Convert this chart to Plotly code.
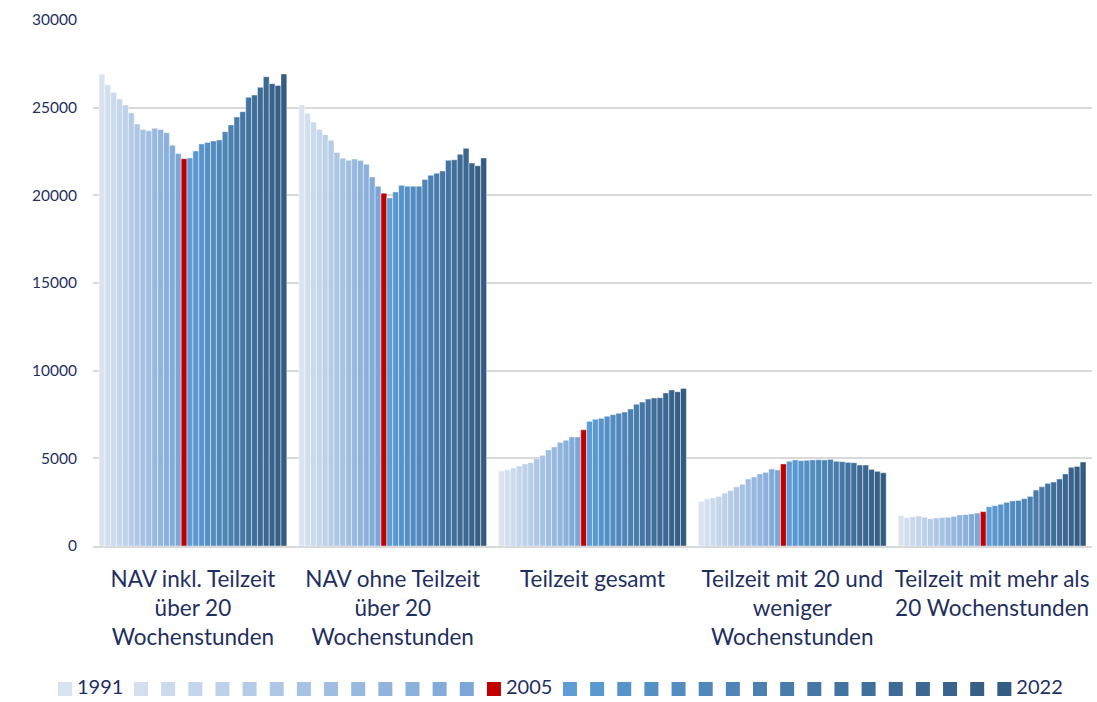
import plotly.graph_objects as go

# ---------------- data ----------------
years = list(range(1991, 2023))
categories = [
    "NAV inkl. Teilzeit<br>über 20<br>Wochenstunden",
    "NAV ohne Teilzeit<br>über 20<br>Wochenstunden",
    "Teilzeit gesamt",
    "Teilzeit mit 20 und<br>weniger<br>Wochenstunden",
    "Teilzeit mit mehr als<br>20 Wochenstunden",
]
nav_inkl = [26900, 26300, 25880, 25500, 25150, 24710, 24070, 23760, 23690, 23820, 23760, 23570, 22850, 22380, 22090, 22130,
            22530, 22930, 23020, 23100, 23160, 23630, 24010, 24470, 24770, 25590, 25720, 26160, 26770, 26370, 26270, 26920]
nav_ohne = [25150, 24680, 24180, 23760, 23460, 23140, 22450, 22110, 22000, 22070, 21980, 21770, 21050, 20520, 20120, 19850,
            20190, 20570, 20520, 20520, 20520, 20910, 21140, 21260, 21390, 22000, 22030, 22340, 22680, 21840, 21690, 22130]
tz_gesamt = [4280, 4340, 4450, 4560, 4680, 4750, 4980, 5170, 5480, 5650, 5910, 6030, 6220, 6220, 6630, 7110,
             7230, 7280, 7400, 7490, 7570, 7640, 7810, 8080, 8210, 8380, 8440, 8460, 8730, 8900, 8800, 8990]
tz_bis20 = [2550, 2680, 2740, 2830, 3010, 3160, 3370, 3520, 3820, 3940, 4110, 4200, 4390, 4340, 4680, 4830,
            4910, 4870, 4890, 4910, 4920, 4910, 4940, 4830, 4810, 4770, 4750, 4620, 4620, 4370, 4260, 4180]
tz_ueber20 = [1730, 1620, 1670, 1710, 1640, 1560, 1600, 1620, 1640, 1690, 1770, 1790, 1830, 1880, 1960, 2240,
              2300, 2380, 2490, 2570, 2600, 2700, 2830, 3190, 3380, 3570, 3650, 3820, 4110, 4490, 4540, 4790]
series_by_category = [nav_inkl, nav_ohne, tz_gesamt, tz_bis20, tz_ueber20]
labeled_years = [1991, 2005, 2022]
y_ticks = [0, 5000, 10000, 15000, 20000, 25000, 30000]

# ---------------- style ----------------
TEXT = "#1F2F5F"
FONT = "Lato"
GRID = "#D9D9D9"
RED = "#C00000"


def lerp(c1, c2, t):
    return "rgb(%d,%d,%d)" % tuple(round(a + (b - a) * t) for a, b in zip(c1, c2))


light_a, light_b = (218, 228, 241), (123, 166, 215)
dark_a, dark_b = (93, 156, 213), (52, 91, 129)
colors = []
for y in years:
    if y < 2005:
        colors.append(lerp(light_a, light_b, (y - 1991) / (2004 - 1991)))
    elif y == 2005:
        colors.append(RED)
    else:
        colors.append(lerp(dark_a, dark_b, (y - 2006) / (2022 - 2006)))

fig = go.Figure()
for i, y in enumerate(years):
    fig.add_trace(go.Bar(
        x=categories,
        y=[s[i] for s in series_by_category],
        name=str(y),
        marker=dict(color=colors[i], line=dict(color="rgba(255,255,255,0.55)", width=0.8)),
        showlegend=False,
        hovertemplate="%{x}<br>" + str(y) + ": %{y}<extra></extra>",
    ))

# ---------------- custom compact legend (overlay axis in pixel units) ----------------
W, H = 1097, 702
ml, mr, mt, mb = 20, 5, 20, 5
plot_left, plot_right = 93, 1092
plot_bottom = 546
pitch, extra, x_first, leg_y = 27.15, 48.85, 65, 689
leg_x = []
n_lab = 0
for i, y in enumerate(years):
    leg_x.append(x_first + pitch * i + extra * n_lab)
    if y in labeled_years:
        n_lab += 1
fig.add_trace(go.Scatter(
    x=leg_x, y=[leg_y] * len(years),
    mode="markers",
    marker=dict(symbol="square", size=14, color=colors, line=dict(width=0)),
    xaxis="x2", yaxis="y2", showlegend=False, hoverinfo="skip", cliponaxis=False,
))
lab_idx = [years.index(y) for y in labeled_years]
fig.add_trace(go.Scatter(
    x=[leg_x[i] + 12 for i in lab_idx], y=[leg_y] * len(lab_idx),
    mode="text",
    text=[str(y) for y in labeled_years],
    textposition="middle right",
    textfont=dict(family=FONT, size=20, color=TEXT),
    xaxis="x2", yaxis="y2", showlegend=False, hoverinfo="skip", cliponaxis=False,
))

area_w = W - ml - mr
area_h = H - mt - mb
x_dom0 = (plot_left - ml) / area_w
y_dom0 = (H - mb - plot_bottom) / area_h

fig.update_layout(
    width=W, height=H,
    margin=dict(l=ml, r=mr, t=mt, b=mb, autoexpand=False),
    paper_bgcolor="white", plot_bgcolor="white",
    barmode="group", bargap=0.06, bargroupgap=0,
    font=dict(family=FONT, color=TEXT),
    xaxis=dict(
        domain=[x_dom0, 1], type="category", automargin=False,
        showgrid=False, showline=True, linecolor=GRID, linewidth=1.5,
        ticks="", tickfont=dict(family=FONT, size=22.5, color=TEXT),
        ticklabelstandoff=12,
    ),
    yaxis=dict(
        domain=[y_dom0, 1], range=[0, 30000], automargin=False,
        tickvals=y_ticks, ticktext=[str(v) for v in y_ticks],
        showgrid=True, gridcolor=GRID, gridwidth=1.5, zeroline=False,
        showline=False, ticks="", tickfont=dict(family=FONT, size=15.5, color=TEXT),
        ticklabelstandoff=15,
    ),
    xaxis2=dict(domain=[0, 1], range=[ml, W - mr], visible=False, anchor="y2", fixedrange=True, automargin=False),
    yaxis2=dict(domain=[0, y_dom0], range=[H - mb, plot_bottom], visible=False, anchor="x2", fixedrange=True,
                automargin=False),
)

fig.write_html(
    "out.html",
    config={"displayModeBar": False},
    post_script="document.body.style.margin='0';document.body.style.overflow='hidden';",
)
